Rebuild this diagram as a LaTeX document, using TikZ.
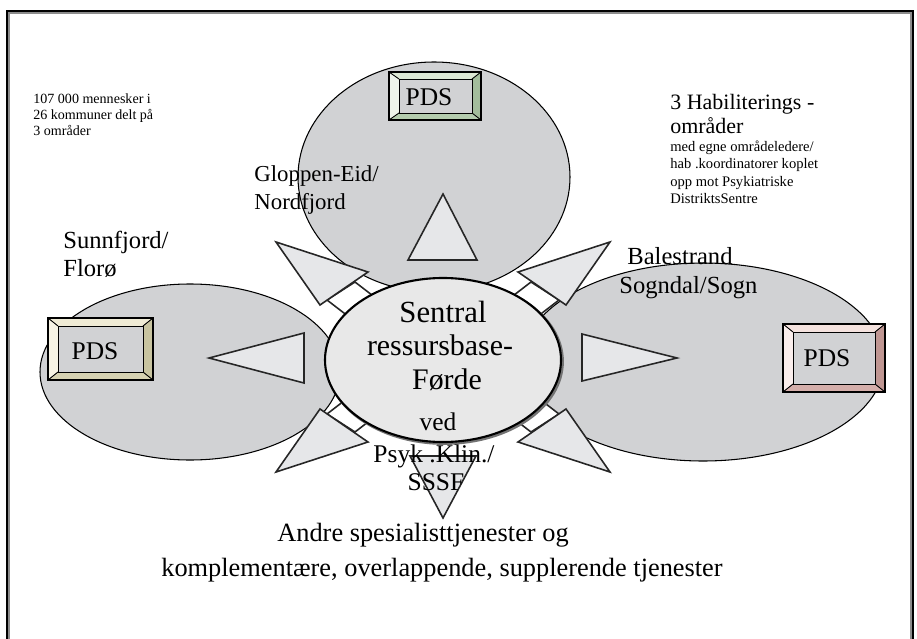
\documentclass[tikz,border=0pt]{standalone}
\usepackage{fontspec}
\setmainfont{Liberation Serif}
\definecolor{areagray}{HTML}{D1D2D4}
\definecolor{headgray}{HTML}{E6E7E9}
\definecolor{basegray}{HTML}{E8E8E8}
\definecolor{grntop}{HTML}{DCE8D4}
\definecolor{grnleft}{HTML}{EEF4EA}
\definecolor{grnright}{HTML}{A3BD9C}
\definecolor{grnbot}{HTML}{B4CCAE}
\definecolor{crmtop}{HTML}{EFEBD5}
\definecolor{crmleft}{HTML}{F6F3E4}
\definecolor{crmright}{HTML}{C8C4A0}
\definecolor{crmbot}{HTML}{D6D2B2}
\definecolor{pnktop}{HTML}{F4E2DE}
\definecolor{pnkleft}{HTML}{FAEEEC}
\definecolor{pnkright}{HTML}{BF9692}
\definecolor{pnkbot}{HTML}{D4AEAA}
\newcommand{\setfs}[1]{\fontsize{#1}{#1}\selectfont}
\tikzset{
  area/.style={fill=areagray, draw=black, line width=0.6pt},
  head/.style={fill=headgray, draw=black!85, line width=0.9pt, line join=miter},
  stem/.style={fill=white, draw=black!85, line width=0.9pt},
  bevel/.style={draw=black, line width=0.5pt},
  lbl/.style={inner sep=0pt, anchor=base west},
  clbl/.style={inner sep=0pt, anchor=base},
}
\begin{document}
\begin{tikzpicture}[x=0.02cm,y=-0.02cm]
  \useasboundingbox (0,0) rectangle (917,639);
  \clip (0,0) rectangle (917,639);

  % Frame round the page
  \draw [black!45, line width=0.8pt] (9,13) rectangle (911,645);%
  \draw [black, line width=0.8pt] (7,11) rectangle (913,645);%

  % Three habilitation areas
  \draw [area] (434,177) ellipse [x radius=136, y radius=115];% Nordfjord
  \draw [area] (190,372) ellipse [x radius=150, y radius=88];% Sunnfjord
  \draw [area] (703,362) ellipse [x radius=181, y radius=99];% Sogn

  % Block arrow to upper left
  \draw [stem] (355,282) -- (394,312) -- (366,330) -- (327,300) -- cycle;%
  \draw [head] (276,242) -- (368,272) -- (320,305) -- cycle;%

  % Block arrow to upper right
  \draw [stem] (531,282) -- (492,312) -- (520,330) -- (559,300) -- cycle;%
  \draw [head] (610,242) -- (518,272) -- (566,305) -- cycle;%

  % Block arrow to lower left
  \draw [stem] (355,432) -- (394,402) -- (366,384) -- (327,414) -- cycle;%
  \draw [head] (276,472) -- (368,442) -- (320,409) -- cycle;%

  % Block arrow to lower right
  \draw [stem] (531,432) -- (492,402) -- (520,384) -- (559,414) -- cycle;%
  \draw [head] (610,472) -- (518,442) -- (566,409) -- cycle;%

  % Central resource base
  \draw [black!55, line width=1.6pt] (444.5,361.5) ellipse [x radius=118, y radius=82];%
  \draw [fill=basegray, draw=black, line width=1.2pt] (443,360) ellipse [x radius=118, y radius=82];%

  % Triangles inside the areas
  \draw [head] (443,194) -- (477,260) -- (408,260) -- cycle;%
  \draw [head] (209,358) -- (304,333) -- (304,383) -- cycle;%
  \draw [head] (677,358) -- (582,334) -- (582,381) -- cycle;%
  \draw [head] (443,518) -- (410,456) -- (476,456) -- cycle;%

  % PDS box, top (green)
  \fill [grntop] (389,72) -- (481,72) -- (472,79) -- (399,79) -- cycle;%
  \fill [grnleft] (389,72) -- (399,79) -- (399,113) -- (389,120) -- cycle;%
  \fill [grnright] (481,72) -- (481,120) -- (472,113) -- (472,79) -- cycle;%
  \fill [grnbot] (389,120) -- (481,120) -- (472,113) -- (399,113) -- cycle;%
  \draw [bevel, fill=areagray] (399,79) rectangle (472,113);%
  \draw [bevel] (389,72) -- (399,79) (481,72) -- (472,79) (389,120) -- (399,113) (481,120) -- (472,113);%
  \draw [black, line width=1.1pt] (389,72) rectangle (481,120);%
  \node (pdsN) [inner sep=0pt] at (429,97) {\setfs{14.5}PDS};%

  % PDS box, left (cream)
  \fill [crmtop] (48,318) -- (153,318) -- (143,326) -- (58,326) -- cycle;%
  \fill [crmleft] (48,318) -- (58,326) -- (58,372) -- (48,380) -- cycle;%
  \fill [crmright] (153,318) -- (153,380) -- (143,372) -- (143,326) -- cycle;%
  \fill [crmbot] (48,380) -- (153,380) -- (143,372) -- (58,372) -- cycle;%
  \draw [bevel, fill=areagray] (58,326) rectangle (143,372);%
  \draw [bevel] (48,318) -- (58,326) (153,318) -- (143,326) (48,380) -- (58,372) (153,380) -- (143,372);%
  \draw [black, line width=1.1pt] (48,318) rectangle (153,380);%
  \node (pdsW) [inner sep=0pt] at (95,351) {\setfs{14.5}PDS};%

  % PDS box, right (pink)
  \fill [pnktop] (783,324) -- (885,324) -- (875,332) -- (793,332) -- cycle;%
  \fill [pnkleft] (783,324) -- (793,332) -- (793,384) -- (783,392) -- cycle;%
  \fill [pnkright] (885,324) -- (885,392) -- (875,384) -- (875,332) -- cycle;%
  \fill [pnkbot] (783,392) -- (885,392) -- (875,384) -- (793,384) -- cycle;%
  \draw [bevel, fill=areagray] (793,332) rectangle (875,384);%
  \draw [bevel] (783,324) -- (793,332) (885,324) -- (875,332) (783,392) -- (793,384) (885,392) -- (875,384);%
  \draw [black, line width=1.1pt] (783,324) rectangle (885,392);%
  \node (pdsE) [inner sep=0pt] at (827,358) {\setfs{14.5}PDS};%

  % Population note
  \node (pop1) [lbl] at (33,103) {\setfs{8}107 000 mennesker i};%
  \node (pop2) [lbl] at (33,119) {\setfs{8}26 kommuner delt på};%
  \node (pop3) [lbl] at (33,135) {\setfs{8}3 områder};%

  % Habilitation note
  \node (hab1) [lbl] at (670,109) {\setfs{12.5}3 Habiliterings -};%
  \node (hab2) [lbl] at (670,133) {\setfs{12.5}områder};%
  \node (hab3) [lbl] at (670,151) {\setfs{8.3}med egne områdeledere/};%
  \node (hab4) [lbl] at (670,168) {\setfs{8.3}hab .koordinatorer koplet};%
  \node (hab5) [lbl] at (670,186) {\setfs{8.3}opp mot Psykiatriske};%
  \node (hab6) [lbl] at (670,203) {\setfs{8.3}DistriktsSentre};%

  % Area names
  \node (nord1) [lbl] at (254,181) {\setfs{13}Gloppen-Eid/};%
  \node (nord2) [lbl] at (254,209) {\setfs{13}Nordfjord};%
  \node (sunn1) [lbl] at (63,248) {\setfs{14}Sunnfjord/};%
  \node (sunn2) [lbl] at (63,276) {\setfs{14}Florø};%
  \node (sogn1) [lbl] at (627,264) {\setfs{14}Balestrand};%
  \node (sogn2) [lbl] at (619,293) {\setfs{14}Sogndal/Sogn};%

  % Central text
  \node (sen1) [clbl] at (443,322) {\setfs{17.5}Sentral};%
  \node (sen2) [clbl] at (440,355) {\setfs{17}ressursbase-};%
  \node (sen3) [clbl] at (447,389) {\setfs{17}Førde};%
  \node (ved1) [clbl] at (438,430) {\setfs{14.5}ved};%
  \node (ved2) [clbl] at (434,462) {\setfs{14.5}Psyk .Klin./};%
  \node (ved3) [clbl] at (436,490) {\setfs{14.5}SSSF};%

  % Other services
  \node (oth1) [clbl] at (423,541) {\setfs{15}Andre spesialisttjenester og};%
  \node (oth2) [clbl] at (442,576) {\setfs{15}komplementære, overlappende, supplerende tjenester};%
\end{tikzpicture}
\end{document}
